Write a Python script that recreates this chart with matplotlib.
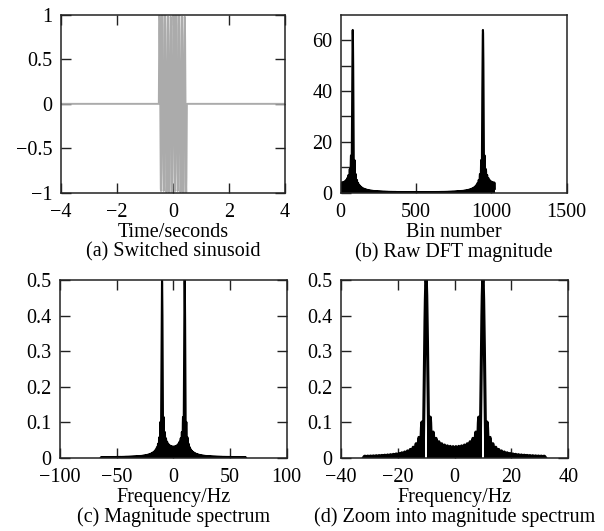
import numpy as np
from matplotlib import pyplot as plt
from matplotlib.ticker import FixedLocator, FuncFormatter

# signal description
fs = 128.0              # samples per second (spectrum spans -64..64 Hz)
t_start, t_stop = -4.0, 4.0
on_start, on_stop = -0.5, 0.5
f0 = 10.0               # Hz, peaks at +/-10 Hz
amplitude = 1.0
zoom_limit = 32.0       # Hz kept for panel (d)

time_ticks = [-4, -2, 0, 2, 4]
amp_ticks = [-1, -0.5, 0, 0.5, 1]
bin_ticks = [0, 500, 1000, 1500]
dft_ticks = [0, 20, 40, 60]
dft_minor = [10, 30, 50]
freq_ticks = [-100, -50, 0, 50, 100]
zoom_ticks = [-40, -20, 0, 20, 40]
spec_ticks = [0, 0.1, 0.2, 0.3, 0.4, 0.5]

captions = ['(a) Switched sinusoid', '(b) Raw DFT magnitude',
            '(c) Magnitude spectrum', '(d) Zoom into magnitude spectrum']
xlabels = ['Time/seconds', 'Bin number', 'Frequency/Hz', 'Frequency/Hz']

t = np.arange(t_start, t_stop, 1.0 / fs)
gate = (t >= on_start) & (t < on_stop)
x = amplitude * np.sin(2 * np.pi * f0 * t) * gate

N = len(t)
X = np.abs(np.fft.fft(x))
bins = np.arange(N)
freq = (np.arange(N) - N / 2) * fs / N
spec = np.fft.fftshift(X) / fs
keep = np.abs(freq) <= zoom_limit

plt.rcParams['font.family'] = ['Liberation Serif', 'DejaVu Serif']
plt.rcParams['font.size'] = 14.5
plt.rcParams['axes.linewidth'] = 1.1
plt.rcParams['axes.edgecolor'] = '#222222'

W, H = 604, 531
fig = plt.figure(figsize=(W / 100, H / 100), dpi=100)


def add_axes(l, r, t_, b):
    return fig.add_axes([l / W, 1 - b / H, (r - l) / W, (b - t_) / H])


def fmt(v, pos=None):
    s = '%g' % v
    return s.replace('-', '\u2212')


def style(ax, xt, yt, label, caption, all_sides=True):
    ax.xaxis.set_major_locator(FixedLocator(xt))
    ax.yaxis.set_major_locator(FixedLocator(yt))
    ax.xaxis.set_major_formatter(FuncFormatter(fmt))
    ax.yaxis.set_major_formatter(FuncFormatter(fmt))
    ax.tick_params(direction='in', length=7, width=1, color='#222222',
                   top=all_sides, right=all_sides)
    ax.tick_params(axis='x', pad=7.5)
    ax.tick_params(axis='y', pad=6)
    ax.tick_params(which='minor', direction='in', length=7, width=1,
                   color='#222222')
    ax.set_xlabel(label + '\n' + caption, linespacing=1.0, labelpad=0.5)


ax1 = add_axes(60.7, 285, 15, 192.7)
ax1.plot(t, x, color='#ababab', lw=1.4)
ax1.set_xlim(-4, 4)
ax1.set_ylim(-1, 1)
style(ax1, time_ticks, amp_ticks, xlabels[0], captions[0])

ax2 = add_axes(340.7, 566.7, 14.7, 192.7)
ax2.plot(bins, X, color='black', lw=1.5)
ax2.set_xlim(0, 1500)
ax2.set_ylim(0, 70)
style(ax2, bin_ticks, dft_ticks, xlabels[1], captions[1], all_sides=False)
ax2.yaxis.set_minor_locator(FixedLocator(dft_minor))

ax3 = add_axes(60, 286.7, 280, 457.7)
ax3.plot(freq, spec, color='black', lw=1.5)
ax3.set_xlim(-100, 100)
ax3.set_ylim(0, 0.5)
style(ax3, freq_ticks, spec_ticks, xlabels[2], captions[2])

ax4 = add_axes(340.7, 568.3, 280, 457.7)
ax4.plot(freq[keep], spec[keep], color='black', lw=2.2)
ax4.set_xlim(-40, 40)
ax4.set_ylim(0, 0.5)
style(ax4, zoom_ticks, spec_ticks, xlabels[3], captions[3])

fig.savefig('out.png', dpi=100)
